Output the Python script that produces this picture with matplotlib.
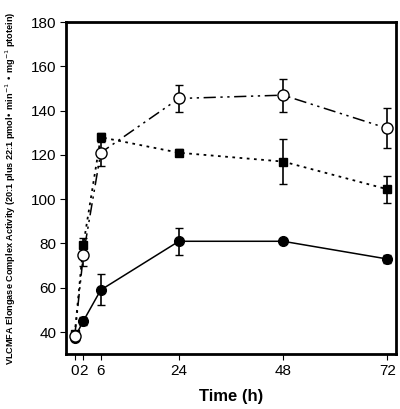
import matplotlib
matplotlib.use("Agg")
import matplotlib.pyplot as plt

plt.rcParams['font.family'] = ['Liberation Sans', 'DejaVu Sans']

# Time points (h)
time_h = [0, 2, 6, 24, 48, 72]

# Open circles, dash-dot line
open_vals = [38, 75, 121, 145.5, 147, 132]
open_err = [1, 5, 6, 6, 7.5, 9]

# Filled squares, dotted line
square_vals = [39, 79.5, 128, 121, 117, 104.5]
square_err = [1, 3, 2, 1.5, 10, 6]

# Filled circles, solid line
filled_vals = [37.5, 45, 59, 81, 81, 73]
filled_err = [1, 2, 7, 6, 1, 2]

fig = plt.figure(figsize=(4.0, 4.09), dpi=100)
ax = fig.add_axes([0.165, 0.134, 0.825, 0.812])

common = dict(color='black', ecolor='black', elinewidth=1.2, capsize=3, capthick=1.2,
              markersize=7, markeredgecolor='black', markeredgewidth=1.0)

ax.errorbar(time_h, filled_vals, yerr=filled_err, fmt='o', linestyle='-', lw=1.1,
            markerfacecolor='black', zorder=3, **common)
ax.errorbar(time_h, square_vals, yerr=square_err, fmt='s', linestyle=(0, (1.5, 2.5)), lw=1.3,
            markerfacecolor='black', zorder=3, **{**common, 'markersize': 6})
ax.errorbar(time_h, open_vals, yerr=open_err, fmt='o', linestyle=(0, (8, 3, 1.5, 3, 1.5, 3)), lw=1.1,
            markerfacecolor='white', zorder=4, **{**common, 'markersize': 8})

ax.set_xlim(-2, 74)
ax.set_ylim(30, 180)
ax.set_xticks(time_h)
ax.set_xticklabels(['0', '2', '6', '24', '48', '72'])
ax.set_yticks(range(40, 181, 20))
ax.tick_params(direction='out', length=4, width=0.8, labelsize=11, pad=3)
for s in ax.spines.values():
    s.set_linewidth(2)

ax.set_xlabel('Time (h)', fontsize=12, fontweight='bold', labelpad=8)
ax.set_ylabel('VLCMFA Elongase Complex Activity (20:1 plus 22:1 pmol• min$^{-1}$ • mg$^{-1}$ ptotein)',
              fontsize=6.6, fontweight='bold', labelpad=9)

fig.savefig('out.png', dpi=100)
